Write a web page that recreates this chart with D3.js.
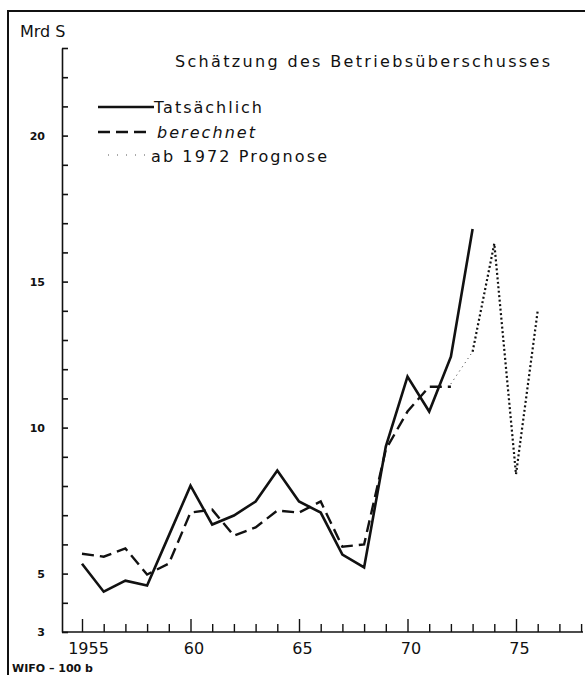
<!DOCTYPE html>
<html lang="de">
<head>
<meta charset="UTF-8">
<script src="https://cdn.jsdelivr.net/npm/d3@7"></script>
<title>Betriebsüberschuss</title>
<style>
    body { margin: 0; background: white; }
    svg text { font-family: 'DejaVu Sans', sans-serif; fill: #111; }
</style>
</head>
<body>
<div id="chart"></div>
<script>
    // data (Mrd S)
    const years = d3.range(1955, 1974);
    const tatsaechlich = [5.34, 4.38, 4.76, 4.59, 6.3, 8.01, 6.68, 6.99, 7.47, 8.53, 7.47, 7.09, 5.65, 5.21, 9.35, 11.75, 10.55, 12.43, 16.8];
    const berechnetYears = d3.range(1955, 1973);
    const berechnet = [5.68, 5.58, 5.86, 4.97, 5.34, 7.09, 7.19, 6.3, 6.58, 7.16, 7.09, 7.47, 5.92, 6.0, 9.25, 10.55, 11.4, 11.4];
    const prognoseYears = [1972, 1973, 1974, 1975, 1976];
    const prognose = [11.5, 12.6, 16.3, 8.4, 14.0];
    const yLabels = [3, 5, 10, 15, 20];
    const xLabels = {1955: "1955", 1960: "60", 1965: "65", 1970: "70", 1975: "75"};

    const width = 585, height = 675;
    const svg = d3.select("#chart").append("svg")
        .attr("width", width)
        .attr("height", height);

    const x = d3.scaleLinear().domain([1955, 1975]).range([82, 516]);
    const y = d3.scaleLinear().domain([3, 23]).range([632, 48]);

    // frame
    svg.append("path")
        .attr("d", `M8,${height} V11 H${width}`)
        .attr("fill", "none").attr("stroke", "#111").attr("stroke-width", 2);

    // y axis
    const yAxis = d3.axisLeft(y)
        .tickValues(d3.range(3, 24))
        .tickSize(-6)
        .tickSizeOuter(0)
        .tickPadding(17)
        .tickFormat(d => yLabels.includes(d) ? d : "");
    const gy = svg.append("g").attr("transform", "translate(62,0)").call(yAxis);
    gy.select(".domain").attr("stroke", "#111").attr("stroke-width", 1.6);
    gy.selectAll(".tick line").attr("stroke", "#111").attr("stroke-width", 1.6);
    gy.selectAll(".tick text").attr("font-size", 11).attr("font-weight", "bold").attr("fill", "#111");

    // x axis
    const xAxis = d3.axisBottom(x)
        .tickValues(d3.range(1955, 1979))
        .tickSize(-8)
        .tickSizeOuter(0)
        .tickPadding(11)
        .tickFormat(d => xLabels[d] || "");
    const gx = svg.append("g").attr("transform", "translate(0,632)").call(xAxis);
    gx.select(".domain").remove();
    gx.append("line").attr("x1", 62).attr("x2", 583).attr("stroke", "#111").attr("stroke-width", 1.6);
    gx.selectAll(".tick line").attr("stroke", "#111").attr("stroke-width", 1.4)
        .attr("y2", d => d % 5 === 0 ? -13 : -8);
    gx.selectAll(".tick text").attr("font-size", 16).attr("fill", "#111")
        .attr("dx", d => d === 1955 ? 6 : 3);

    // lines
    const line = d3.line().x(d => x(d[0])).y(d => y(d[1]));

    svg.append("path")
        .datum(d3.zip(berechnetYears, berechnet))
        .attr("d", line)
        .attr("fill", "none").attr("stroke", "#111").attr("stroke-width", 2.4)
        .attr("stroke-dasharray", "12,6");

    const progData = d3.zip(prognoseYears, prognose);
    svg.append("path")
        .datum(progData.slice(0, 2))
        .attr("d", line)
        .attr("fill", "none").attr("stroke", "#333").attr("stroke-width", 1)
        .attr("stroke-dasharray", "1,4");
    svg.append("path")
        .datum(progData.slice(1))
        .attr("d", line)
        .attr("fill", "none").attr("stroke", "#111").attr("stroke-width", 2.2)
        .attr("stroke-dasharray", "2,2.5");

    svg.append("path")
        .datum(d3.zip(years, tatsaechlich))
        .attr("d", line)
        .attr("fill", "none").attr("stroke", "#111").attr("stroke-width", 2.6)
        .attr("stroke-linejoin", "miter");

    // texts
    svg.append("text").attr("x", 20).attr("y", 37).attr("font-size", 16).text("Mrd S");
    svg.append("text").attr("x", 175).attr("y", 67).attr("font-size", 16)
        .attr("textLength", 375).attr("lengthAdjust", "spacing")
        .text("Schätzung des Betriebsüberschusses");
    svg.append("text").attr("x", 12).attr("y", 672).attr("font-size", 11).attr("font-weight", "bold")
        .text("WIFO – 100 b");

    // legend
    const legend = svg.append("g");
    legend.append("line").attr("x1", 98).attr("x2", 154).attr("y1", 107).attr("y2", 107)
        .attr("stroke", "#111").attr("stroke-width", 2.4);
    legend.append("text").attr("x", 154).attr("y", 113).attr("font-size", 16)
        .attr("textLength", 108).attr("lengthAdjust", "spacing").text("Tatsächlich");
    legend.append("line").attr("x1", 98).attr("x2", 150).attr("y1", 132).attr("y2", 132)
        .attr("stroke", "#111").attr("stroke-width", 2.4).attr("stroke-dasharray", "12,6");
    legend.append("text").attr("x", 157).attr("y", 138).attr("font-size", 16).attr("font-style", "italic")
        .attr("textLength", 98).attr("lengthAdjust", "spacing").text("berechnet");
    legend.append("line").attr("x1", 108).attr("x2", 146).attr("y1", 155).attr("y2", 155)
        .attr("stroke", "#555").attr("stroke-width", 1).attr("stroke-dasharray", "1,8");
    legend.append("text").attr("x", 151).attr("y", 162).attr("font-size", 16)
        .attr("textLength", 176).attr("lengthAdjust", "spacing").text("ab 1972 Prognose");
</script>
</body>
</html>
